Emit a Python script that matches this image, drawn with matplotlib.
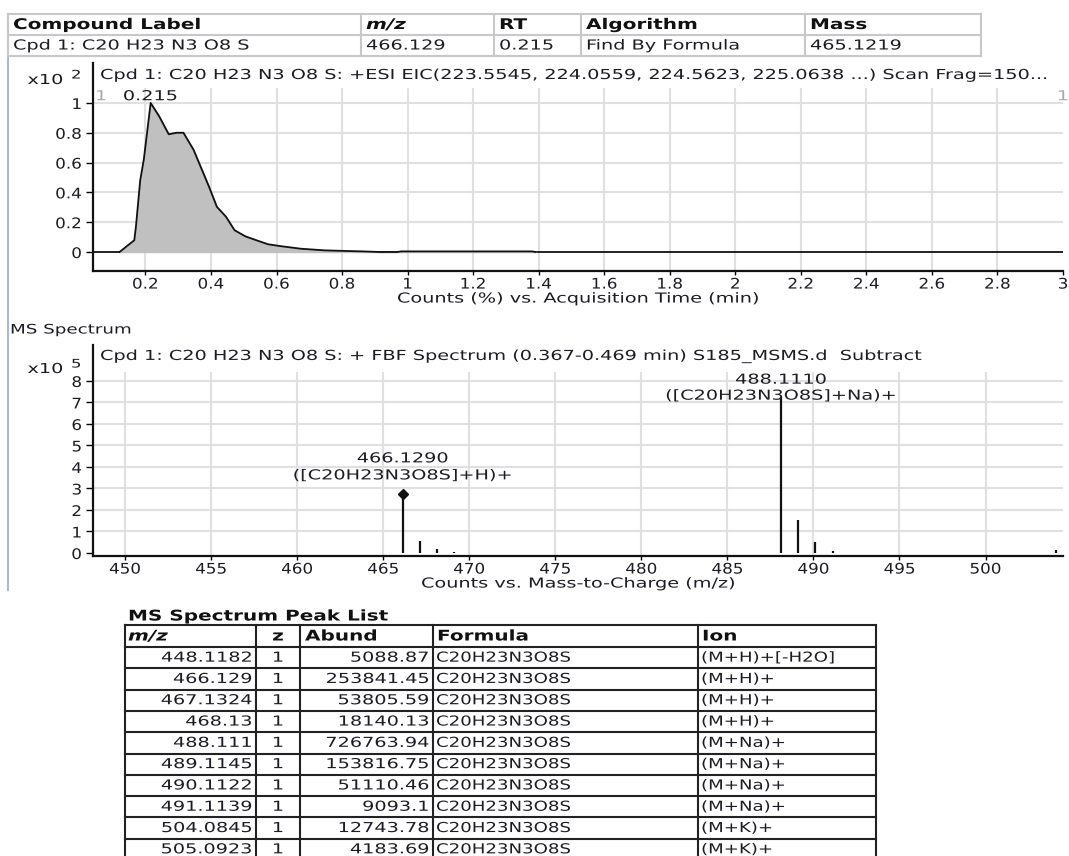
import numpy as np
import matplotlib
matplotlib.use("Agg")
import matplotlib.pyplot as plt
from matplotlib.ticker import FormatStrFormatter
from matplotlib.patheffects import AbstractPathEffect
from matplotlib.transforms import Affine2D

plt.rcParams['font.family'] = ['DejaVu Sans']

W, H = 1069, 856

# compound summary
cpd_header = ["Compound Label", "m/z", "RT", "Algorithm", "Mass"]
cpd_row = ["Cpd 1: C20 H23 N3 O8 S", "466.129", "0.215", "Find By Formula", "465.1219"]

# extracted ion chromatogram (counts x10^2)
eic_time = [0.121, 0.166, 0.171, 0.184, 0.195, 0.216, 0.242, 0.271, 0.295, 0.316,
            0.347, 0.394, 0.418, 0.446, 0.472, 0.505, 0.537, 0.574, 0.61, 0.674,
            0.747, 0.81, 0.863, 0.916, 0.968, 0.98, 1.38, 1.39]
eic_counts = [0.0, 0.079, 0.17, 0.48, 0.62, 1.0, 0.91, 0.79, 0.80, 0.80,
              0.685, 0.438, 0.303, 0.236, 0.146, 0.105, 0.08, 0.052, 0.04, 0.022,
              0.011, 0.007, 0.004, 0.0, 0.0, 0.004, 0.004, 0.0]
eic_rt = 0.215

# MS spectrum peaks (counts x10^5)
spec_mz = [448.1182, 466.129, 467.1324, 468.13, 469.13, 488.111, 489.1145,
           490.1122, 491.1139, 504.0845, 505.0923]
spec_abund = [0.0509, 2.5384, 0.5381, 0.1814, 0.03, 7.2676, 1.5382,
              0.5111, 0.0909, 0.1274, 0.0418]

# peak list table
pk_mz = ["448.1182", "466.129", "467.1324", "468.13", "488.111", "489.1145",
         "490.1122", "491.1139", "504.0845", "505.0923"]
pk_z = ["1"] * 10
pk_abund = ["5088.87", "253841.45", "53805.59", "18140.13", "726763.94",
            "153816.75", "51110.46", "9093.1", "12743.78", "4183.69"]
pk_formula = ["C20H23N3O8S"] * 10
pk_ion = ["(M+H)+[-H2O]", "(M+H)+", "(M+H)+", "(M+H)+", "(M+Na)+", "(M+Na)+",
          "(M+Na)+", "(M+Na)+", "(M+K)+", "(M+K)+"]

txt = '#1c1c24'
grid = '#e0e0e0'


class Widen(AbstractPathEffect):
    """Draw text glyphs stretched horizontally about the alignment point."""

    def __init__(self, sx=1.4, align='left'):
        super().__init__()
        self.sx = sx
        self.align = align

    def draw_path(self, renderer, gc, tpath, affine, rgbFace=None):
        ext = tpath.get_extents()
        c = {'left': 0.0, 'center': (ext.x0 + ext.x1) / 2, 'right': ext.x1}[self.align]
        tr = Affine2D().translate(-c, 0).scale(self.sx, 1).translate(c, 0) + affine
        renderer.draw_path(gc, tpath, tr, rgbFace)


def rect(l, t, r, b):
    return [l / W, 1 - b / H, (r - l) / W, (b - t) / H]


fig = plt.figure(figsize=(W / 100, H / 100), dpi=100)
bg = fig.add_axes([0, 0, 1, 1])
bg.set_xlim(0, W)
bg.set_ylim(H, 0)
bg.axis('off')


def put(x, y, s, size=9.9, sx=1.4, ha='left', color=txt, **kw):
    bg.text(x, y, s, fontsize=size, ha=ha, va='center', color=color,
            path_effects=[Widen(sx, ha)], **kw)


# left frame line
bg.plot([8, 8], [14, 590], color='#a9bccf', lw=1.5)

# summary table
cols = [8, 361, 494, 581, 805, 981]
rows = [14, 35, 56]
for y in rows:
    bg.plot([cols[0], cols[-1]], [y, y], color='#c8c8c8', lw=1.5)
for x in cols:
    bg.plot([x, x], [rows[0], rows[-1]], color='#c8c8c8', lw=1.5)
for i, (h, v) in enumerate(zip(cpd_header, cpd_row)):
    put(cols[i] + 5, 24.5, h, size=10.6, sx=1.36, fontweight='bold',
        style='italic' if h == 'm/z' else 'normal', color='#111')
    put(cols[i] + 5, 45.5, v)

# ---- EIC ----
ax1 = fig.add_axes(rect(93, 63, 1063, 271))
ax1.set_facecolor('none')
ax1.set_xlim(0.04, 3.0)
ax1.set_ylim(-0.1275, 1.268)
xt1 = np.round(np.arange(0.2, 3.01, 0.2), 1)
yt1 = np.round(np.arange(0, 1.01, 0.2), 1)
ax1.vlines(xt1[:-1], -0.1275, 1.10, color=grid, lw=1.5, zorder=0)
ax1.hlines(yt1[1:], 0.04, 3.0, color=grid, lw=1.5, zorder=0)
ax1.axhline(0, color='#111', lw=1.3, zorder=1)
ax1.fill_between(eic_time, eic_counts, color='#c0c0c0', zorder=2)
ax1.plot(eic_time, eic_counts, color='#111', lw=1.3, zorder=3)
ax1.set_xticks(xt1)
ax1.set_yticks(yt1)
ax1.xaxis.set_major_formatter(FormatStrFormatter('%g'))
ax1.yaxis.set_major_formatter(FormatStrFormatter('%g'))
ax1.text(eic_rt, 1.045, "%g" % eic_rt, ha='center', va='center', fontsize=9.9,
         color=txt, path_effects=[Widen(1.4, 'center')])
ax1.text(0.065, 1.045, "1", ha='center', va='center', fontsize=9.9, color='#aaa',
         path_effects=[Widen(1.4, 'center')])
ax1.text(3.0, 1.045, "1", ha='center', va='center', fontsize=9.9, color='#aaa',
         path_effects=[Widen(1.4, 'center')])
ax1.set_xlabel("Counts (%) vs. Acquisition Time (min)", fontsize=9.9, color=txt,
               labelpad=0)

put(100, 75, "Cpd 1: C20 H23 N3 O8 S: +ESI EIC(223.5545, 224.0559, 224.5623, "
    "225.0638 ...) Scan Frag=150...")
put(63, 80, "x10", ha='right')
put(71, 75, "2", size=8.5)

# ---- MS spectrum ----
put(10, 330, "MS Spectrum", size=9.4)
ax2 = fig.add_axes(rect(93, 345, 1063, 556))
ax2.set_facecolor('none')
ax2.set_xlim(448.14, 504.5)
ax2.set_ylim(-0.14, 9.67)
xt2 = np.arange(450, 501, 5)
yt2 = np.arange(0, 9)
ax2.vlines(xt2, -0.14, 8.42, color=grid, lw=1.5, zorder=0)
ax2.hlines(yt2[1:], 448.14, 504.5, color=grid, lw=1.5, zorder=0)
ax2.vlines(spec_mz, 0, spec_abund, color='#111', lw=1.6, zorder=3)
ax2.plot([spec_mz[1]], [spec_abund[1] + 0.2], marker='D', ms=5, color='#111', zorder=4)
ax2.set_xticks(xt2)
ax2.set_yticks(yt2)
ax2.set_xlabel("Counts vs. Mass-to-Charge (m/z)", fontsize=9.9, color=txt, labelpad=0)

labels = [(1, "([C20H23N3O8S]+H)+", 40, 23), (5, "([C20H23N3O8S]+Na)+", 17, 1)]
for i, ion, off1, off2 in labels:
    for s, off in (("%.4f" % spec_mz[i], off1), (ion, off2)):
        ax2.annotate(s, (spec_mz[i], spec_abund[i]), xytext=(0, off),
                     textcoords='offset pixels', ha='center', va='center',
                     fontsize=9.9, color=txt, path_effects=[Widen(1.4, 'center')])

put(100, 356, "Cpd 1: C20 H23 N3 O8 S: + FBF Spectrum (0.367-0.469 min) "
    "S185_MSMS.d  Subtract")
put(63, 369, "x10", ha='right')
put(71, 364, "5", size=8.5)

for ax in (ax1, ax2):
    for s in ('top', 'right'):
        ax.spines[s].set_visible(False)
    for s in ('left', 'bottom'):
        ax.spines[s].set_linewidth(1.6)
        ax.spines[s].set_color('#111')
    ax.tick_params(axis='y', length=5, width=1, labelsize=10.5, labelcolor=txt, pad=3)
    ax.tick_params(axis='x', length=3, width=1, labelsize=10.5, labelcolor=txt, pad=1)
    for lab in ax.get_xticklabels():
        lab.set_path_effects([Widen(1.15, 'center')])
    for lab in ax.get_yticklabels():
        lab.set_path_effects([Widen(1.15, 'right')])
    ax.xaxis.label.set_path_effects([Widen(1.4, 'center')])

# ---- peak list ----
put(128, 616, "MS Spectrum Peak List", size=10.6, sx=1.36, fontweight='bold', color='#111')
pcols = [125, 256, 300, 433, 698, 876]
ptop, phead, rh = 625, 647, 21.3
hlines = [ptop] + [phead + rh * i for i in range(len(pk_mz) + 1)]
for y in hlines:
    bg.plot([pcols[0], pcols[-1]], [y, y], color='#222', lw=1.5)
for x in pcols:
    bg.plot([x, x], [ptop, H + 5], color='#222', lw=1.5)
hy = (ptop + phead) / 2
hb = dict(size=10.6, sx=1.36, fontweight='bold', color='#111')
put(128, hy, "m/z", style='italic', **hb)
put(278, hy, "z", ha='center', **hb)
put(305, hy, "Abund", **hb)
put(437, hy, "Formula", **hb)
put(702, hy, "Ion", **hb)
for i in range(len(pk_mz)):
    y = phead + rh * i + rh / 2
    put(252, y, pk_mz[i], ha='right')
    put(278, y, pk_z[i], ha='center')
    put(429, y, pk_abund[i], ha='right')
    put(436, y, pk_formula[i], sx=1.32)
    put(701, y, pk_ion[i], sx=1.32)

fig.savefig("out.png", dpi=100)
